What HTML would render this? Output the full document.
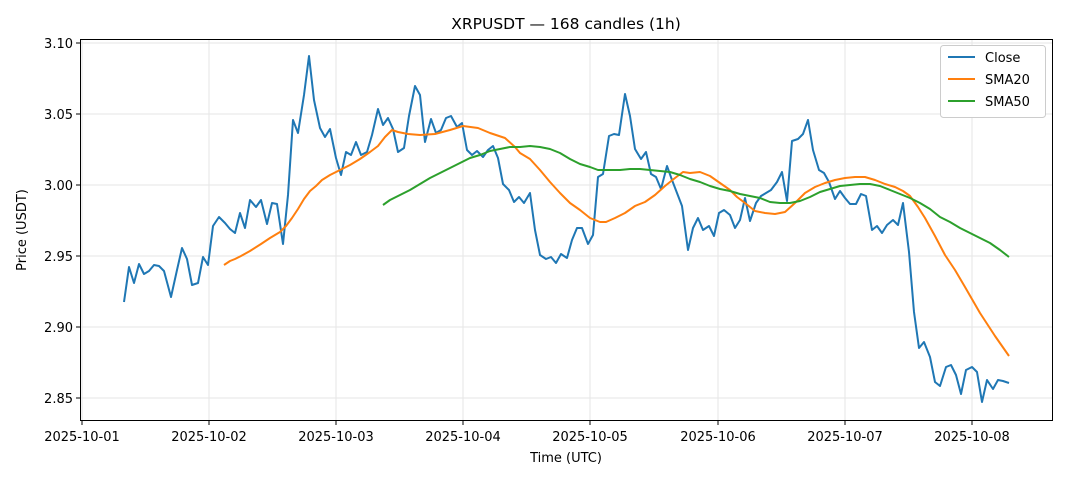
<!DOCTYPE html>
<html><head><meta charset="utf-8"><style>body{margin:0;background:#fff}svg{display:block;font-family:"DejaVu Sans","Liberation Sans",sans-serif}</style></head><body>
<svg width="1068" height="481" viewBox="0 0 1068 481">
<rect width="1068" height="481" fill="#fff"/>
<g stroke="#e6e6e6" stroke-width="1">
<line x1="82" y1="39" x2="82" y2="420"/><line x1="209" y1="39" x2="209" y2="420"/><line x1="336" y1="39" x2="336" y2="420"/><line x1="463" y1="39" x2="463" y2="420"/><line x1="590" y1="39" x2="590" y2="420"/><line x1="718" y1="39" x2="718" y2="420"/><line x1="845" y1="39" x2="845" y2="420"/><line x1="972" y1="39" x2="972" y2="420"/>
<line x1="80" y1="43" x2="1052" y2="43"/><line x1="80" y1="114" x2="1052" y2="114"/><line x1="80" y1="185" x2="1052" y2="185"/><line x1="80" y1="256" x2="1052" y2="256"/><line x1="80" y1="327" x2="1052" y2="327"/><line x1="80" y1="398" x2="1052" y2="398"/>
</g>
<g fill="none" stroke-width="2" stroke-linejoin="round">
<polyline stroke="#1f77b4" points="124,302 129,267 134,283 139,264 144,274 149,271 154,265 159,266 164,271 171,297 177,270 182,248 187,259 192,285 198,283 203,257 208,265 213,226 219,217 225,223 230,229 235,233 240,213 245,228 250,200 256,207 261,200 267,224 272,203 277,204 283,244 288,195 293,120 298,133 304,95 309,56 314,100 320,128 325,137 330,129 336,158 341,175 346,152 351,155 356,142 361,155 367,152 372,135 378,109 383,125 388,118 393,129 398,152 404,148 409,116 415,86 420,95 425,142 431,119 436,133 441,130 446,118 451,116 457,127 462,123 467,150 472,155 477,151 483,157 488,150 493,146 498,158 503,184 509,190 514,202 519,197 524,203 530,193 535,230 540,255 546,259 551,257 556,263 561,254 567,258 572,240 577,228 582,228 588,244 593,235 598,177 603,174 609,136 614,134 619,135 625,94 630,116 635,149 641,159 646,152 651,174 656,177 661,189 667,166 672,180 677,193 682,206 688,250 693,228 698,218 703,230 709,226 714,236 719,213 724,210 730,215 735,228 740,220 745,198 750,221 756,203 761,196 766,193 771,190 777,182 782,172 787,201 792,141 798,139 803,134 808,120 813,150 819,170 824,173 829,182 835,199 840,191 845,198 850,204 856,204 861,194 866,196 872,230 877,226 882,233 887,225 893,220 898,225 903,203 909,252 914,312 919,348 924,342 930,357 935,382 940,386 946,367 951,365 956,375 961,394 966,370 972,367 977,372 982,402 987,380 993,389 998,380 1003,381 1009,383"/>
<polyline stroke="#ff7f0e" points="224,265 230,261 235,259 241,256 250,251 261,244 270,238 280,232 286,226 292,218 298,209 304,199 310,191 316,186 322,180 330,175 340,170 350,165 360,159 370,152 378,146 385,137 392,130 398,132 408,134 420,135 435,134 450,130 463,126 478,128 490,133 505,138 515,147 520,153 530,159 540,170 550,182 560,193 570,203 580,210 590,218 600,222 606,222 615,218 625,213 635,206 645,202 655,195 665,186 675,178 683,172 690,173 700,172 710,176 720,183 730,190 737,197 745,203 755,211 765,213 775,214 785,212 795,203 805,193 815,187 825,183 835,180 845,178 855,177 865,177 875,180 885,184 895,187 903,191 910,196 918,207 925,218 935,236 945,255 955,270 965,287 980,313 995,336 1009,356"/>
<polyline stroke="#2ca02c" points="383,205 390,200 400,195 410,190 420,184 430,178 440,173 450,168 460,163 470,158 480,155 490,151 500,149 510,147 520,147 530,146 540,147 550,149 560,153 570,159 580,164 590,167 598,170 610,170 620,170 630,169 640,169 650,170 660,171 670,172 680,175 690,179 700,182 710,186 720,189 730,191 740,194 750,196 760,198 770,202 780,203 790,203 800,201 810,197 820,192 830,189 840,186 850,185 860,184 870,184 880,186 890,190 900,194 910,198 920,203 930,209 940,217 950,222 960,228 970,233 980,238 990,243 1000,250 1009,257"/>
</g>
<rect x="80.5" y="39.5" width="972" height="381" fill="none" stroke="#000" stroke-width="1"/>
<g stroke="#000"><line x1="82" y1="421" x2="82" y2="425"/><line x1="209" y1="421" x2="209" y2="425"/><line x1="336" y1="421" x2="336" y2="425"/><line x1="463" y1="421" x2="463" y2="425"/><line x1="590" y1="421" x2="590" y2="425"/><line x1="718" y1="421" x2="718" y2="425"/><line x1="845" y1="421" x2="845" y2="425"/><line x1="972" y1="421" x2="972" y2="425"/>
<line x1="76" y1="43" x2="80" y2="43"/><line x1="76" y1="114" x2="80" y2="114"/><line x1="76" y1="185" x2="80" y2="185"/><line x1="76" y1="256" x2="80" y2="256"/><line x1="76" y1="327" x2="80" y2="327"/><line x1="76" y1="398" x2="80" y2="398"/></g>
<g font-size="13" fill="#000" text-anchor="middle">
<text x="82" y="441">2025-10-01</text><text x="209" y="441">2025-10-02</text><text x="336" y="441">2025-10-03</text><text x="463" y="441">2025-10-04</text><text x="590" y="441">2025-10-05</text><text x="718" y="441">2025-10-06</text><text x="845" y="441">2025-10-07</text><text x="972" y="441">2025-10-08</text>
<text x="566" y="462">Time (UTC)</text>
<text x="566" y="29" font-size="15.5">XRPUSDT — 168 candles (1h)</text>
<text transform="translate(26,230) rotate(-90)">Price (USDT)</text>
</g>
<g font-size="13" fill="#000" text-anchor="end">
<text x="73" y="48">3.10</text><text x="73" y="119">3.05</text><text x="73" y="190">3.00</text><text x="73" y="261">2.95</text><text x="73" y="332">2.90</text><text x="73" y="403">2.85</text>
</g>
<rect x="940.5" y="45.5" width="105" height="72" rx="3" fill="#fff" stroke="#ccc"/>
<g stroke-width="2"><line x1="948" y1="57" x2="975" y2="57" stroke="#1f77b4"/><line x1="948" y1="79" x2="975" y2="79" stroke="#ff7f0e"/><line x1="948" y1="101" x2="975" y2="101" stroke="#2ca02c"/></g>
<g font-size="13" fill="#000"><text x="985" y="62">Close</text><text x="985" y="84">SMA20</text><text x="985" y="106">SMA50</text></g>
</svg>
</body></html>
